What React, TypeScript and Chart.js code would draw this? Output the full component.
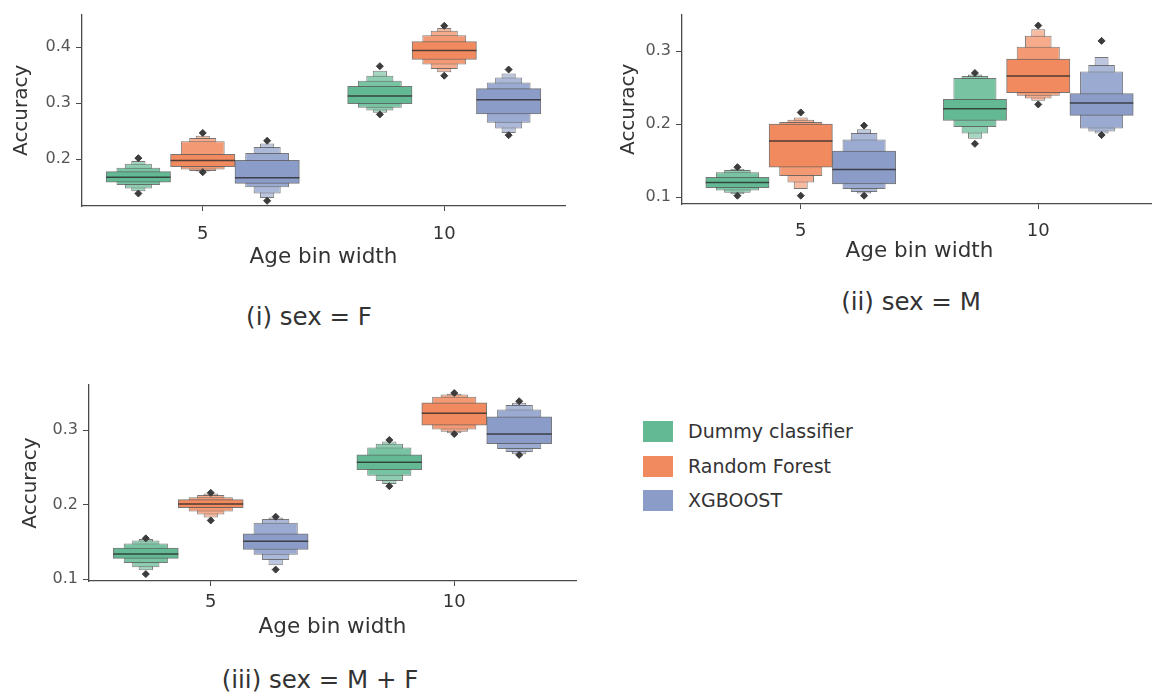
import React, { useEffect, useRef } from 'react';
import { Chart, registerables } from 'chart.js';

Chart.register(...registerables);
Chart.defaults.font.family = "'DejaVu Sans', 'Noto Sans', sans-serif";

// ---------- data ----------
const CATEGORIES = ['5', '10'];
const MODELS = ['Dummy classifier', 'Random Forest', 'XGBOOST'];

// letter values per model -> per bin width [5, 10] -> per level (innermost first)
// (i) sex = F
const F_LO = [
  [[0.159, 0.154, 0.148, 0.143], [0.299, 0.292, 0.287, 0.283]],
  [[0.187, 0.182, 0.179, 0.178], [0.378, 0.369, 0.361, 0.355]],
  [[0.157, 0.150, 0.139, 0.131], [0.281, 0.265, 0.255, 0.247]],
];
const F_HI = [
  [[0.178, 0.185, 0.192, 0.197], [0.330, 0.340, 0.349, 0.358]],
  [[0.209, 0.232, 0.238, 0.242], [0.410, 0.421, 0.429, 0.434]],
  [[0.198, 0.211, 0.222, 0.228], [0.326, 0.337, 0.346, 0.353]],
];
const F_MED = [[0.168, 0.313], [0.198, 0.394], [0.167, 0.306]];
const F_OUT = [
  [[0.202, 0.139], [0.366, 0.280]],
  [[0.247, 0.177], [0.438, 0.349]],
  [[0.233, 0.126], [0.360, 0.243]],
];
const F_YTICKS = [0.2, 0.3, 0.4];

// (ii) sex = M
const M_LO = [
  [[0.113, 0.109, 0.106, 0.104], [0.205, 0.196, 0.187, 0.180]],
  [[0.141, 0.129, 0.120, 0.111], [0.243, 0.239, 0.235, 0.232]],
  [[0.118, 0.111, 0.107, 0.105], [0.212, 0.194, 0.190, 0.187]],
];
const M_HI = [
  [[0.127, 0.134, 0.137, 0.139], [0.234, 0.263, 0.266, 0.268]],
  [[0.200, 0.203, 0.206, 0.209], [0.289, 0.306, 0.321, 0.330]],
  [[0.163, 0.179, 0.188, 0.193], [0.242, 0.272, 0.281, 0.292]],
];
const M_MED = [[0.120, 0.221], [0.177, 0.266], [0.138, 0.229]];
const M_OUT = [
  [[0.141, 0.102], [0.270, 0.173]],
  [[0.216, 0.102], [0.335, 0.227]],
  [[0.198, 0.102], [0.314, 0.185]],
];
const M_YTICKS = [0.1, 0.2, 0.3];

// (iii) sex = M + F
const MF_LO = [
  [[0.128, 0.122, 0.116, 0.112], [0.247, 0.239, 0.232, 0.228]],
  [[0.196, 0.191, 0.187, 0.183], [0.307, 0.301, 0.298, 0.296]],
  [[0.140, 0.133, 0.126, 0.119], [0.282, 0.275, 0.271, 0.268]],
];
const MF_HI = [
  [[0.142, 0.148, 0.152, 0.154], [0.267, 0.277, 0.282, 0.285]],
  [[0.207, 0.210, 0.213, 0.215], [0.337, 0.345, 0.348, 0.349]],
  [[0.161, 0.176, 0.181, 0.183], [0.318, 0.328, 0.334, 0.337]],
];
const MF_MED = [[0.134, 0.257], [0.201, 0.323], [0.151, 0.295]];
const MF_OUT = [
  [[0.155, 0.107], [0.287, 0.225]],
  [[0.216, 0.179], [0.350, 0.295]],
  [[0.184, 0.113], [0.339, 0.267]],
];
const MF_YTICKS = [0.1, 0.2, 0.3];

// ---------- style ----------
const COLORS = ['#62b993', '#f18a5f', '#8b9cc8'];
const LEVEL_WIDTHS = [1, 0.68, 0.42, 0.22];
const LEVEL_TINT = [0, 0.14, 0.28, 0.42];
const EDGE = 'rgba(85,85,85,0.8)';
const MEDIAN = 'rgba(40,40,40,0.8)';
const OUTLIER = '#3c3c3c';
const AXIS = '#4a4a4a';
const TEXT = '#333333';
const TICKTEXT = '#555555';
const FONT = "'DejaVu Sans', sans-serif";
const GROUP_WIDTH = 0.8; // seaborn dodge width

function tint(hex: string, f: number) {
  const n = parseInt(hex.slice(1), 16);
  const r = (n >> 16) & 255, g = (n >> 8) & 255, b = n & 255;
  const m = (c: number) => Math.round(c + (255 - c) * f);
  return `rgb(${m(r)},${m(g)},${m(b)})`;
}

type Spec = {
  lo: number[][][]; hi: number[][][]; med: number[][]; out: number[][][]; yticks: number[];
  left: number; top: number; w: number; h: number;
  yW: number; xH: number; padTop: number; padRight: number;
  ymin: number; ymax: number; yTitlePad: number; xTickPad: number;
};

const PANELS: Spec[] = [
  { lo: F_LO, hi: F_HI, med: F_MED, out: F_OUT, yticks: F_YTICKS,
    left: 0, top: 0, w: 620, h: 270, yW: 82, xH: 64, padTop: 11, padRight: 55,
    ymin: 0.1167, ymax: 0.458, yTitlePad: 10, xTickPad: 13 },
  { lo: M_LO, hi: M_HI, med: M_MED, out: M_OUT, yticks: M_YTICKS,
    left: 600, top: 0, w: 562, h: 264, yW: 82, xH: 60, padTop: 10, padRight: 0,
    ymin: 0.0906, ymax: 0.350, yTitlePad: 17, xTickPad: 12 },
  { lo: MF_LO, hi: MF_HI, med: MF_MED, out: MF_OUT, yticks: MF_YTICKS,
    left: 0, top: 370, w: 620, h: 270, yW: 89, xH: 59, padTop: 15, padRight: 44,
    ymin: 0.0977, ymax: 0.3608, yTitlePad: 19, xTickPad: 6 },
];

function buildConfig(p: Spec): any {
  const slot = GROUP_WIDTH / MODELS.length;
  const pos = (b: number, m: number) => b + (m - 1) * slot;
  const datasets: any[] = [];
  MODELS.forEach((name, m) => {
    LEVEL_WIDTHS.forEach((bw, l) => {
      datasets.push({
        type: 'bar',
        label: `${name} level ${l + 1}`,
        data: CATEGORIES.map((_, b) => ({ x: pos(b, m), y: [p.lo[m][b][l], p.hi[m][b][l]] })),
        backgroundColor: tint(COLORS[m], LEVEL_TINT[l]),
        borderColor: EDGE,
        borderWidth: 1,
        borderSkipped: false,
        grouped: false,
        barPercentage: bw,
        categoryPercentage: 1,
        order: 10 + l,
      });
    });
  });
  MODELS.forEach((name, m) => {
    CATEGORIES.forEach((_, b) => {
      const c = pos(b, m);
      datasets.push({
        type: 'scatter',
        label: `${name} median ${CATEGORIES[b]}`,
        data: [{ x: c - slot / 2, y: p.med[m][b] }, { x: c + slot / 2, y: p.med[m][b] }],
        showLine: true,
        borderColor: MEDIAN,
        borderWidth: 1.5,
        pointRadius: 0,
        order: 2,
      });
    });
    datasets.push({
      type: 'scatter',
      label: `${name} outliers`,
      data: p.out[m].flatMap((pts, b) => pts.map((y) => ({ x: pos(b, m), y }))),
      pointStyle: 'rectRot',
      pointRadius: 3.5,
      backgroundColor: OUTLIER,
      borderColor: OUTLIER,
      borderWidth: 1,
      order: 1,
    });
  });

  return {
    type: 'bar',
    data: { datasets },
    options: {
      responsive: false,
      animation: false,
      events: [],
      layout: { padding: { left: 0, top: p.padTop, right: p.padRight, bottom: 0 } },
      plugins: { legend: { display: false }, tooltip: { enabled: false } },
      scales: {
        x: {
          type: 'linear',
          position: 'bottom',
          offset: false,
          min: -0.5,
          max: 1.5,
          grid: { display: true, offset: false, drawOnChartArea: false, drawTicks: true, tickLength: 5, color: AXIS, lineWidth: 1 },
          border: { display: true, color: AXIS, width: 1.3 },
          afterBuildTicks: (s: any) => { s.ticks = CATEGORIES.map((_, i) => ({ value: i })); },
          ticks: { padding: p.xTickPad, color: TEXT, font: { size: 18, family: FONT },
            callback: (v: any) => CATEGORIES[Math.round(Number(v))] ?? '' },
          title: { display: true, text: 'Age bin width', color: TEXT, font: { size: 21.5, family: FONT }, padding: { top: 0, bottom: 0 } },
          afterFit: (s: any) => { s.height = p.xH; },
        },
        y: {
          type: 'linear',
          position: 'left',
          stacked: false,
          min: p.ymin,
          max: p.ymax,
          grid: { display: true, drawOnChartArea: false, drawTicks: true, tickLength: 6, color: AXIS, lineWidth: 1 },
          border: { display: true, color: AXIS, width: 1.3 },
          ticks: { includeBounds: false, padding: 5, color: TICKTEXT, font: { size: 16, family: FONT },
            callback: (v: any) => Number(v).toFixed(1) },
          afterBuildTicks: (s: any) => { s.ticks = p.yticks.map((v) => ({ value: v })); },
          title: { display: true, text: 'Accuracy', color: TEXT, font: { size: 20, family: FONT }, padding: { top: p.yTitlePad, bottom: 0 } },
          afterFit: (s: any) => { s.width = p.yW; },
        },
      },
    },
  };
}

function Panel({ p }: { p: Spec }) {
  const ref = useRef<HTMLCanvasElement>(null);
  useEffect(() => {
    const chart = new Chart(ref.current as HTMLCanvasElement, buildConfig(p));
    return () => chart.destroy();
  }, [p]);
  return (
    <canvas
      ref={ref}
      width={p.w}
      height={p.h}
      style={{ position: 'absolute', left: p.left, top: p.top, width: p.w, height: p.h }}
    />
  );
}

const CAPTIONS = [
  { text: '(i) sex = F', cx: 309, cy: 317 },
  { text: '(ii) sex = M', cx: 911, cy: 302 },
  { text: '(iii) sex = M + F', cx: 320, cy: 680 },
];

export default function App() {
  return (
    <div style={{ position: 'absolute', left: 0, top: 0, width: 1152, height: 697, overflow: 'hidden', background: '#fff', fontFamily: FONT }}>
      {PANELS.map((p, i) => <Panel key={i} p={p} />)}
      {CAPTIONS.map((c, i) => (
        <div key={i} style={{ position: 'absolute', left: c.cx - 200, top: c.cy - 15, width: 400, height: 30, lineHeight: '30px', textAlign: 'center', fontSize: 24.5, color: TEXT, whiteSpace: 'nowrap' }}>
          {c.text}
        </div>
      ))}
      {MODELS.map((name, i) => (
        <div key={name} style={{ position: 'absolute', left: 643, top: 421 + i * 34.5, height: 21, display: 'flex', alignItems: 'center' }}>
          <div style={{ width: 30, height: 21, background: COLORS[i] }} />
          <span style={{ marginLeft: 15, fontSize: 19, color: TEXT, lineHeight: '21px', whiteSpace: 'nowrap' }}>{name}</span>
        </div>
      ))}
    </div>
  );
}
